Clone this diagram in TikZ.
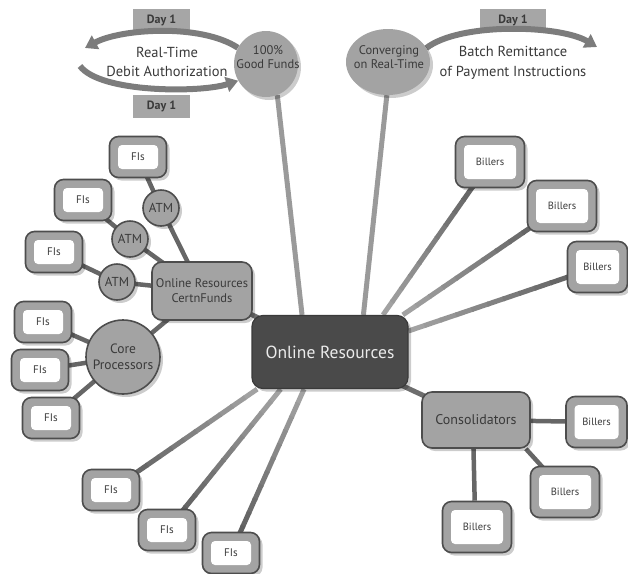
\documentclass[tikz,border=0pt]{standalone}
\usepackage{fontspec}
\setmainfont{PT Sans}
\usetikzlibrary{shapes.geometric,arrows.meta,shadows,backgrounds,calc}
\definecolor{midg}{HTML}{A3A3A3}
\definecolor{darkb}{HTML}{4D4D4D}
\definecolor{cen}{HTML}{4A4A4A}
\definecolor{cenb}{HTML}{3A3A3A}
\definecolor{linec}{HTML}{9A9A9A}
\definecolor{linedk}{HTML}{666666}
\definecolor{glight}{HTML}{A2A2A2}
\definecolor{gdark}{HTML}{585858}
\definecolor{txt}{HTML}{3A3A3A}
\definecolor{dayc}{HTML}{A6A6A6}
\definecolor{arcc}{HTML}{7C7C7C}
\tikzset{
 shd/.style={drop shadow={shadow xshift=3pt,shadow yshift=-3pt,opacity=0.2,fill=black}},
 hub/.style={rectangle, rounded corners=11pt, fill=cen, draw=cenb, line width=1.2pt,
   minimum width=156pt, minimum height=73pt, text=white!92!black,
   font=\fontsize{17.5}{20}\selectfont, shd},
 grp/.style={rectangle, rounded corners=10pt, fill=midg, draw=darkb, line width=1.6pt,
   text=txt, align=center, inner sep=1pt, shd},
 rnd/.style={circle, fill=midg, draw=darkb, line width=1.6pt, text=txt, align=center,
   inner sep=0pt, shd},
 leaf/.style={rectangle, rounded corners=9pt, fill=midg, draw=darkb, line width=1.6pt,
   text=txt, shd,
   path picture={\fill[white, rounded corners=4pt]
     ([shift={(8.5pt,8.5pt)}]path picture bounding box.south west) rectangle
     ([shift={(-8.5pt,-8.5pt)}]path picture bounding box.north east);}},
 fis/.style={leaf, minimum width=57pt, minimum height=41pt, font=\fontsize{11}{12}\selectfont},
 bil/.style={leaf, minimum width=69pt, minimum height=51pt, font=\fontsize{10.5}{12}\selectfont},
 oval/.style={ellipse, fill=midg, shd, inner sep=0pt},
 dayb/.style={rectangle, fill=dayc, minimum width=57pt, minimum height=23pt,
   font=\bfseries\fontsize{12}{13}\selectfont, text=txt},
 link/.style={draw=linec, line width=5pt},
 midlink/.style={draw=linedk!85!linec, line width=5pt},
 sublink/.style={draw=linedk, line width=4.5pt},
 arcline/.style={draw=arcc, line width=6pt, -{Triangle[length=12pt,width=15pt]}},
 lbl/.style={text=txt, align=center},
}
\newcommand\gradlink[2]{%
  \foreach \i in {0,...,11}{%
    \pgfmathsetmacro\pa{\i/12}%
    \pgfmathsetmacro\pb{min((\i+1.1)/12,1)}%
    \pgfmathtruncatemacro\pc{\i*100/11}%
    \draw[line width=5pt, draw=gdark!\pc!glight] ($(#1)!\pa!(#2)$) -- ($(#1)!\pb!(#2)$);
  }%
}
\begin{document}
\begin{tikzpicture}[x=1pt,y=-1pt]
\useasboundingbox (0,0) rectangle (628,573);

% top ellipses
\node[oval, minimum width=64pt, minimum height=66pt] (gf) at (266,64) {};
\node[lbl, font=\fontsize{12.5}{14}\selectfont] (gft) at (268,57) {100\%\\Good Funds};
\node[oval, minimum width=84pt, minimum height=66pt] (cv) at (388,62) {};
\node[lbl, font=\fontsize{12.5}{14}\selectfont] (cvt) at (389,57) {Converging\\on Real-Time};

% labels of arcs
\node[lbl, font=\fontsize{14.5}{19}\selectfont] (rtl) at (167,62) {Real-Time\\Debit Authorization};
\node[lbl, font=\fontsize{14.5}{20}\selectfont] (brl) at (513,63) {Batch Remittance\\of Payment Instructions};

% hub
\node[hub] (c) at (330,352) {Online Resources};
\node[grp, minimum width=108pt, minimum height=56pt, font=\fontsize{14}{16}\selectfont] (cons) at (476,420) {Consolidators};
\node[grp, minimum width=100pt, minimum height=58pt, font=\fontsize{12.5}{15}\selectfont] (cf) at (202,291) {Online Resources\\CertnFunds};
\node[rnd, minimum size=74pt, font=\fontsize{13.5}{16}\selectfont] (core) at (123,357) {Core\\Processors};
\node[rnd, minimum size=36pt, font=\fontsize{13}{14}\selectfont] (atma) at (161,208) {ATM};
\node[rnd, minimum size=36pt, font=\fontsize{13}{14}\selectfont] (atmb) at (130,239) {ATM};
\node[rnd, minimum size=36pt, font=\fontsize{13}{14}\selectfont] (atmc) at (117,282) {ATM};

% FIs
\node[fis] (fa) at (138,157) {FIs};
\node[fis] (fb) at (83,200) {FIs};
\node[fis] (fc) at (54,252) {FIs};
\node[fis] (fd) at (43,322) {FIs};
\node[fis] (fe) at (40,370) {FIs};
\node[fis] (ff) at (51,418) {FIs};
\node[fis] (fg) at (111,490) {FIs};
\node[fis] (fh) at (167,530) {FIs};
\node[fis] (fi) at (231,553) {FIs};

% Billers
\node[bil] (ba) at (490,162) {Billers};
\node[bil] (bb) at (562,206) {Billers};
\node[bil, minimum width=60pt] (bc) at (597.5,267) {Billers};
\node[bil, minimum width=61pt] (bd) at (596.5,422) {Billers};
\node[bil] (be) at (565,492) {Billers};
\node[bil] (bf) at (477,527) {Billers};

\coordinate (lt) at (85,48);
\coordinate (lb) at (80,66);
\coordinate (rt) at (597,47);

\begin{scope}[on background layer]
 \node[dayb] (d1) at (161.5,20) {Day 1};
 \node[dayb] (d2) at (161.5,106) {Day 1};
 \node[dayb, minimum width=66pt] (d3) at (513,20) {Day 1};
 \draw[arcline] (gf.150) .. controls (200,23) and (120,29) .. (lt);
 \draw[arcline] (lb) .. controls (100,93) and (200,93) .. (gf.211);
 \draw[arcline] (cv.20) .. controls (460,22) and (560,25) .. (rt);

 \draw[link] (c.127) -- (gf.-70);
 \draw[link] (c.48) -- (cv.-92);
 \gradlink{c.35}{ba.center}
 \gradlink{c.27}{bb.center}
 \gradlink{c.15}{bc.center}
 \gradlink{c.207}{fg.center}
 \gradlink{c.217}{fh.center}
 \gradlink{c.235}{fi.center}
 \draw[midlink] (c.center) -- (cons.center);
 \draw[midlink] (c.center) -- (cf.center);

 \draw[sublink] (cons.center) -- (bd.center);
 \draw[sublink] (cons.-30) -- (be.center);
 \draw[sublink] (cons.-95) -- (bf.95);
 \draw[sublink] (cf.center) -- (atma.center);
 \draw[sublink] (cf.center) -- (atmb.center);
 \draw[sublink] (cf.center) -- (atmc.center);
 \draw[sublink] (cf.center) -- (core.center);
 \draw[sublink] (atma.center) -- (fa.center);
 \draw[sublink] (atmb.center) -- (fb.center);
 \draw[sublink] (atmc.center) -- (fc.center);
 \draw[sublink] (core.center) -- (fd.center);
 \draw[sublink] (core.center) -- (fe.center);
 \draw[sublink] (core.center) -- (ff.center);
\end{scope}
\end{tikzpicture}
\end{document}
